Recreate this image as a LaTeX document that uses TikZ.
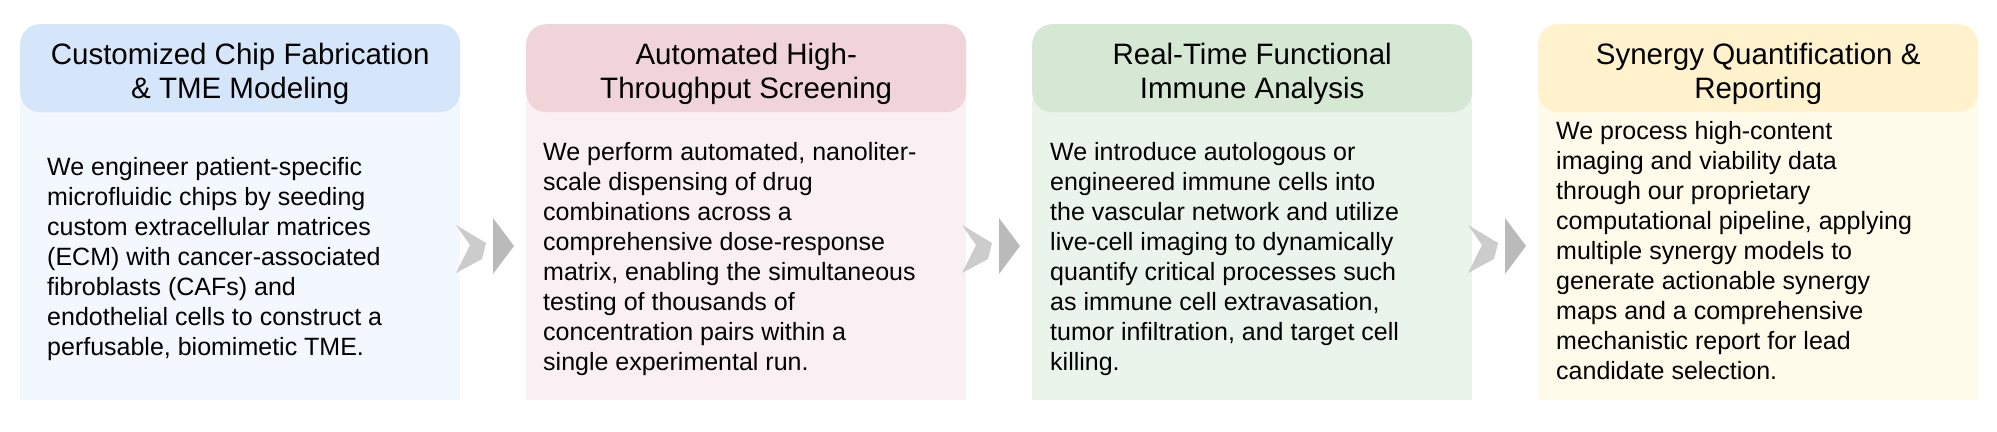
\documentclass[tikz,border=0pt]{standalone}
\usepackage{fontspec}
\setmainfont{Liberation Sans}
\begin{document}
\begin{tikzpicture}[x=1pt,y=1pt,
  hdr/.style={rounded corners=20pt, minimum width=440pt, minimum height=88pt, anchor=north west, align=center, inner sep=0pt},
  bdy/.style={minimum width=440pt, minimum height=300pt, anchor=north west, inner sep=0pt},
  htxt/.style={align=center, font=\fontsize{29.5}{34}\selectfont},
  txt/.style={align=left, font=\fontsize{25}{30}\selectfont, inner sep=0pt},
  chev/.style={fill=black!20, draw=none},
  tri/.style={fill=black!27, draw=none}]
\useasboundingbox (0,0) rectangle (1997,431);
\fill[white] (0,0) rectangle (1997,431);
\definecolor{h1}{HTML}{D6E6FA}\definecolor{b1}{HTML}{F3F7FE}
\definecolor{h2}{HTML}{F0D4D9}\definecolor{b2}{HTML}{FAF0F3}
\definecolor{h3}{HTML}{D5E8D4}\definecolor{b3}{HTML}{EAF4EA}
\definecolor{h4}{HTML}{FFF2CC}\definecolor{b4}{HTML}{FFFBEA}
\foreach \i/\x in {1/20,2/526,3/1032,4/1538}{
  \node[bdy, fill=b\i] (b\i) at (\x,331) {};
  \node[hdr, fill=h\i] (h\i) at (\x,407) {};
}
\node[htxt] (t1) at ([yshift=-6pt]h1.center) {Customized Chip Fabrication\\\& TME Modeling};
\node[htxt] (t2) at ([yshift=-6pt]h2.center) {Automated High-\\Throughput Screening};
\node[htxt] (t3) at ([yshift=-6pt]h3.center) {Real-Time Functional\\Immune Analysis};
\node[htxt] (t4) at ([yshift=-6pt]h4.center) {Synergy Quantification \&\\Reporting};
\node[txt, anchor=west] (p1) at (47,172) {We engineer patient-specific\\microfluidic chips by seeding\\custom extracellular matrices\\(ECM) with cancer-associated\\fibroblasts (CAFs) and\\endothelial cells to construct a\\perfusable, biomimetic TME.};
\node[txt, anchor=west] (p2) at (543,172) {We perform automated, nanoliter-\\scale dispensing of drug\\combinations across a\\comprehensive dose-response\\matrix, enabling the simultaneous\\testing of thousands of\\concentration pairs within a\\single experimental run.};
\node[txt, anchor=west] (p3) at (1050,172) {We introduce autologous or\\engineered immune cells into\\the vascular network and utilize\\live-cell imaging to dynamically\\quantify critical processes such\\as immune cell extravasation,\\tumor infiltration, and target cell\\killing.};
\node[txt, anchor=west] (p4) at (1556,180) {We process high-content\\imaging and viability data\\through our proprietary\\computational pipeline, applying\\multiple synergy models to\\generate actionable synergy\\maps and a comprehensive\\mechanistic report for lead\\candidate selection.};
\foreach \c in {484,990,1496}{
  \fill[chev] (\c-28,206) -- (\c+2,188) -- (\c-2,172) -- (\c-28,158) -- (\c-14,186) -- cycle;
  \fill[tri] (\c+9,213) -- (\c+30,185) -- (\c+9,157) -- cycle;
}
\end{tikzpicture}
\end{document}
